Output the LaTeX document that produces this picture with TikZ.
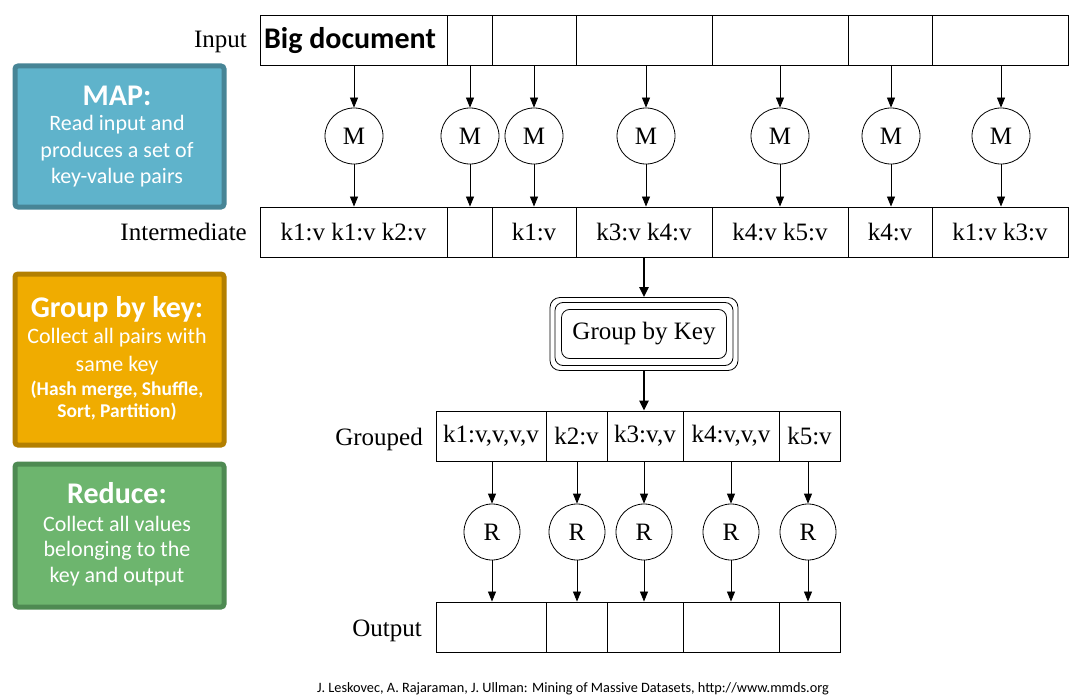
\documentclass[tikz,border=0pt]{standalone}
\usepackage{fontspec}
\setmainfont{Liberation Serif}
\newfontfamily\calfont{Carlito}
\usetikzlibrary{arrows.meta,shapes.geometric}
\definecolor{mapfill}{HTML}{5FB3CB}
\definecolor{mapline}{HTML}{478596}
\definecolor{grpfill}{HTML}{F0AC00}
\definecolor{grpline}{HTML}{B37F00}
\definecolor{redfill}{HTML}{6DB56E}
\definecolor{redline}{HTML}{4E8A52}
\tikzset{
  cell/.style={draw, line width=0.9pt, minimum height=50pt, inner sep=0pt, font=\fontsize{25}{28}\selectfont},
  mnode/.style={draw, ellipse, line width=0.8pt, minimum width=58pt, minimum height=56pt, inner sep=0pt, font=\fontsize{25}{28}\selectfont},
  rnode/.style={draw, circle, line width=0.8pt, minimum size=56pt, inner sep=0pt, font=\fontsize{25}{28}\selectfont},
  arr/.style={line width=0.8pt, -{Triangle[length=10pt,width=8pt]}},
  tarr/.style={line width=2.6pt, -{Triangle[length=10pt,width=9pt]}},
  lbl/.style={anchor=base east, inner sep=0pt, font=\fontsize{25}{28}\selectfont},
  sidebox/.style={rounded corners=3pt, line width=5pt},
  sidetitle/.style={text=white, inner sep=0pt, font=\calfont\bfseries\fontsize{30}{33}\selectfont},
  sidetext/.style={text=white, inner sep=0pt, font=\calfont\fontsize{22}{25}\selectfont},
  sidesmall/.style={text=white, inner sep=0pt, font=\calfont\bfseries\fontsize{19.5}{22}\selectfont},
  gbox/.style={draw, line width=0.8pt, rounded corners=10pt, inner sep=0pt},
}
\begin{document}
\begin{tikzpicture}[x=1pt,y=-1pt]
\useasboundingbox (0,0) rectangle (1092,698);
\fill[white] (0,0) rectangle (1092,698);

% side boxes
\node[sidebox, draw=mapline, fill=mapfill, minimum width=209pt, minimum height=141pt, anchor=north west] (mapbox) at (12.5,63.5) {};
\node[sidetitle] (mapt) at (117,96) {MAP:};
\node[sidetext] (map1) at (117,125) {Read input and};
\node[sidetext] (map2) at (117,152) {produces a set of};
\node[sidetext] (map3) at (117,178) {key-value pairs};

\node[sidebox, draw=grpline, fill=grpfill, minimum width=209pt, minimum height=171pt, anchor=north west] (grpbox) at (12.5,271.5) {};
\node[sidetitle] (grpt) at (117,309) {Group by key:};
\node[sidetext] (grp1) at (117,338) {Collect all pairs with};
\node[sidetext] (grp2) at (117,366) {same key};
\node[sidesmall] (grp3) at (117,390) {(Hash merge, Shuffle,};
\node[sidesmall] (grp4) at (117,412) {Sort, Partition)};

\node[sidebox, draw=redline, fill=redfill, minimum width=209pt, minimum height=143pt, anchor=north west] (redbox) at (12.5,461.5) {};
\node[sidetitle] (redt) at (117,493) {Reduce:};
\node[sidetext] (red1) at (117,524) {Collect all values};
\node[sidetext] (red2) at (117,551) {belonging to the};
\node[sidetext] (red3) at (117,577) {key and output};

% labels
\node[lbl] (linput) at (247,48) {Input};
\node[lbl] (linter) at (247,240) {Intermediate};
\node[lbl] (lgroup) at (423,445) {Grouped};
\node[lbl] (loutput) at (422,636) {Output};

% input row
\node[cell, minimum width=187pt] (in1) at (353.5,40) {};
\node[anchor=base, inner sep=0pt, font=\calfont\bfseries\fontsize{30}{32}\selectfont] (bigdoc) at (350,49) {Big document};
\node[cell, minimum width=45pt]  (in2) at (469.5,40) {};
\node[cell, minimum width=84pt]  (in3) at (534,40) {};
\node[cell, minimum width=136pt] (in4) at (644,40) {};
\node[cell, minimum width=136pt] (in5) at (780,40) {};
\node[cell, minimum width=84pt]  (in6) at (890,40) {};
\node[cell, minimum width=136pt] (in7) at (1000,40) {};

% map nodes
\foreach \n/\x in {1/354,2/470,3/534,4/646,5/780,6/891,7/1001}{
  \node[mnode] (m\n) at (\x,136) {M};
}

% intermediate row
\node[cell, minimum width=187pt] (it1) at (353.5,232) {k1:v k1:v k2:v};
\node[cell, minimum width=45pt]  (it2) at (469.5,232) {};
\node[cell, minimum width=84pt]  (it3) at (534,232) {k1:v};
\node[cell, minimum width=136pt] (it4) at (644,232) {k3:v k4:v};
\node[cell, minimum width=136pt] (it5) at (780,232) {k4:v k5:v};
\node[cell, minimum width=84pt]  (it6) at (890,232) {k4:v};
\node[cell, minimum width=136pt] (it7) at (1000,232) {k1:v k3:v};

\foreach \n in {1,...,7}{
  \draw[arr] (m\n |- in\n.south) -- (m\n.north);
  \draw[arr] (m\n.south) -- (m\n |- it\n.north);
}

% group by key
\node[gbox, minimum width=188pt, minimum height=73pt] (gb1) at (644,334) {};
\node[gbox, minimum width=178pt, minimum height=63pt, rounded corners=8pt] (gb2) at (644,334) {};
\node[gbox, minimum width=165pt, minimum height=49pt, rounded corners=8pt, font=\fontsize{25}{28}\selectfont] (gb3) at (644,334) {Group by Key};

\draw[tarr] (gb1.north |- it4.south) -- (gb1.north);

% grouped row
\node[cell, minimum width=110pt] (g1) at (491,436) {k1:v,v,v,v};
\node[cell, minimum width=61pt]  (g2) at (576.5,436) {k2:v};
\node[cell, minimum width=76pt]  (g3) at (645,436) {k3:v,v};
\node[cell, minimum width=96pt]  (g4) at (731,436) {k4:v,v,v};
\node[cell, minimum width=61pt]  (g5) at (809.5,436) {k5:v};

\draw[tarr] (gb1.south) -- (gb1.south |- g3.north);

% reduce nodes
\foreach \n/\x in {1/492,2/577,3/644,4/731,5/808}{
  \node[rnode] (r\n) at (\x,532) {R};
}

% output row
\node[cell, minimum width=110pt] (o1) at (491,627) {};
\node[cell, minimum width=61pt]  (o2) at (576.5,627) {};
\node[cell, minimum width=76pt]  (o3) at (645,627) {};
\node[cell, minimum width=96pt]  (o4) at (731,627) {};
\node[cell, minimum width=61pt]  (o5) at (809.5,627) {};

\foreach \n in {1,...,5}{
  \draw[arr] (r\n |- g\n.south) -- (r\n.north);
  \draw[arr] (r\n.south) -- (r\n |- o\n.north);
}

% footer
\node[inner sep=0pt, font=\calfont\fontsize{14.3}{16}\selectfont] (foot) at (573,689) {J. Leskovec, A. Rajaraman, J. Ullman: Mining of Massive Datasets, http://www.mmds.org};
\end{tikzpicture}
\end{document}
